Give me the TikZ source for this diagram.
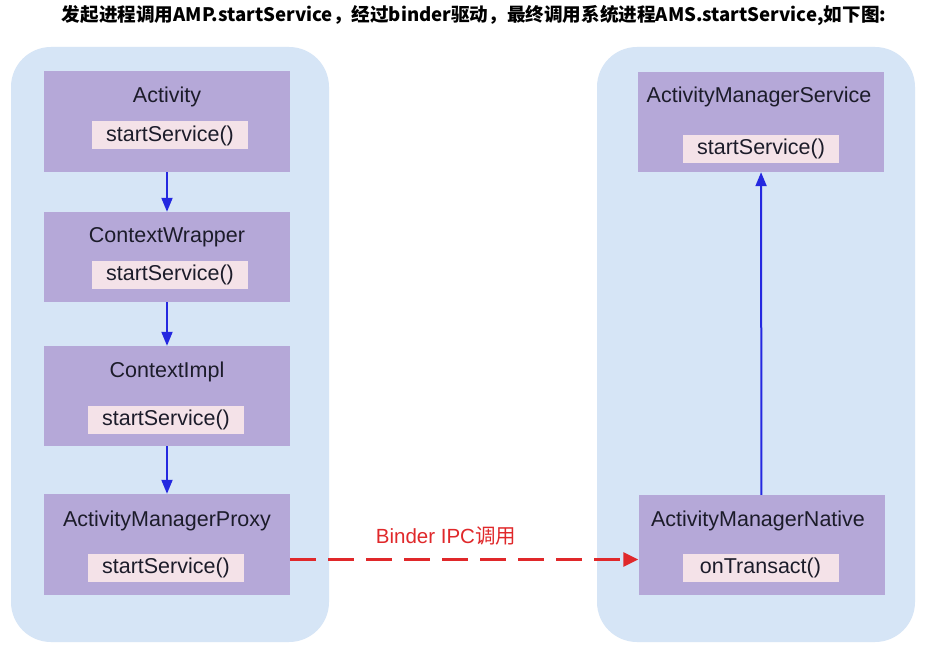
\documentclass[tikz,border=0pt]{standalone}
\usepackage{fontspec}
\setmainfont{Liberation Sans}
\newfontfamily\cjk{Noto Sans CJK SC}
\usetikzlibrary{arrows.meta,positioning}
\definecolor{procbg}{HTML}{D6E5F6}
\definecolor{classbg}{HTML}{B5A8D8}
\definecolor{methbg}{HTML}{F4E2E8}
\definecolor{callblue}{HTML}{2428E0}
\definecolor{ipcred}{HTML}{E0282A}
\definecolor{txt}{HTML}{1C1C2A}
\begin{document}
\begin{tikzpicture}[x=1pt,y=-1pt,
    proc/.style={fill=procbg,rounded corners=40pt},
    cls/.style={fill=classbg,minimum width=246pt,minimum height=100pt,inner sep=0pt},
    clsname/.style={text=txt,inner sep=0pt,text height=15.5pt,text depth=4.5pt,
      font=\fontsize{21.5}{24}\selectfont},
    meth/.style={fill=methbg,text=txt,minimum width=156pt,minimum height=28pt,
      inner sep=0pt,font=\fontsize{21.5}{24}\selectfont},
    call/.style={draw=callblue,line width=2pt,-{Triangle[length=14pt,width=11pt]}},
    ipc/.style={draw=ipcred,line width=3pt,dash pattern=on 26pt off 12pt,
      -{Triangle[length=15pt,width=14pt]}}]
      \fill[white] (0,0) rectangle (927,658);
      \useasboundingbox (0,0) rectangle (927,658);
      \node[font=\cjk\bfseries\fontsize{18.6}{20}\selectfont] (title) at (474,16)
        {发起进程调用AMP.startService，经过binder驱动，最终调用系统进程AMS.startService,如下图:};
      \fill[proc] (11,47) rectangle (329,642);
      \fill[proc] (597,47) rectangle (915,642);
      \draw[draw=none]
        (167,121.5) node[cls,minimum height=101pt] (act){}
        (167,257) node[cls,minimum height=90pt] (cw){}
        (167,396) node[cls] (ci){}
        (167,544.5) node[cls,minimum height=101pt] (amp){}
        (761,122) node[cls] (ams){}
        (761.5,545) node[cls] (amn){};
      \draw[draw=none]
        (167,97.5) node[clsname] (actname){Activity}
        (167,237.5) node[clsname] (cwname){ContextWrapper}
        (167,371.5) node[clsname] (ciname){ContextImpl}
        (167,520.5) node[clsname] (ampname){ActivityManagerProxy}
        (759,97.5) node[clsname] (amsname){ActivityManagerService}
        (758,520.5) node[clsname] (amnname){ActivityManagerNative};
      \draw[draw=none]
        (170,135.5) node[meth] (actm){startService()}
        (170,274.5) node[meth] (cwm){startService()}
        (166,419.5) node[meth] (cim){startService()}
        (166,568) node[meth] (ampm){startService()}
        (761,149) node[meth] (amsm){startService()}
        (760.5,567.5) node[meth] (amnm){onTransact()};
      \begin{scope}[call]
        \draw (act) to (cw);
        \draw (cw) to (ci);
        \draw (ci) to (amp);
        \draw (amn) to (ams);
      \end{scope}
      \draw[ipc] ([yshift=-15pt]amp.east) to ([yshift=-14.5pt]amn.west);
      \node[text=ipcred,font=\fontsize{20.5}{22}\selectfont] (ipclabel) at (446,536)
        {Binder IPC{\cjk 调用}};
    \end{tikzpicture}
\end{document}
